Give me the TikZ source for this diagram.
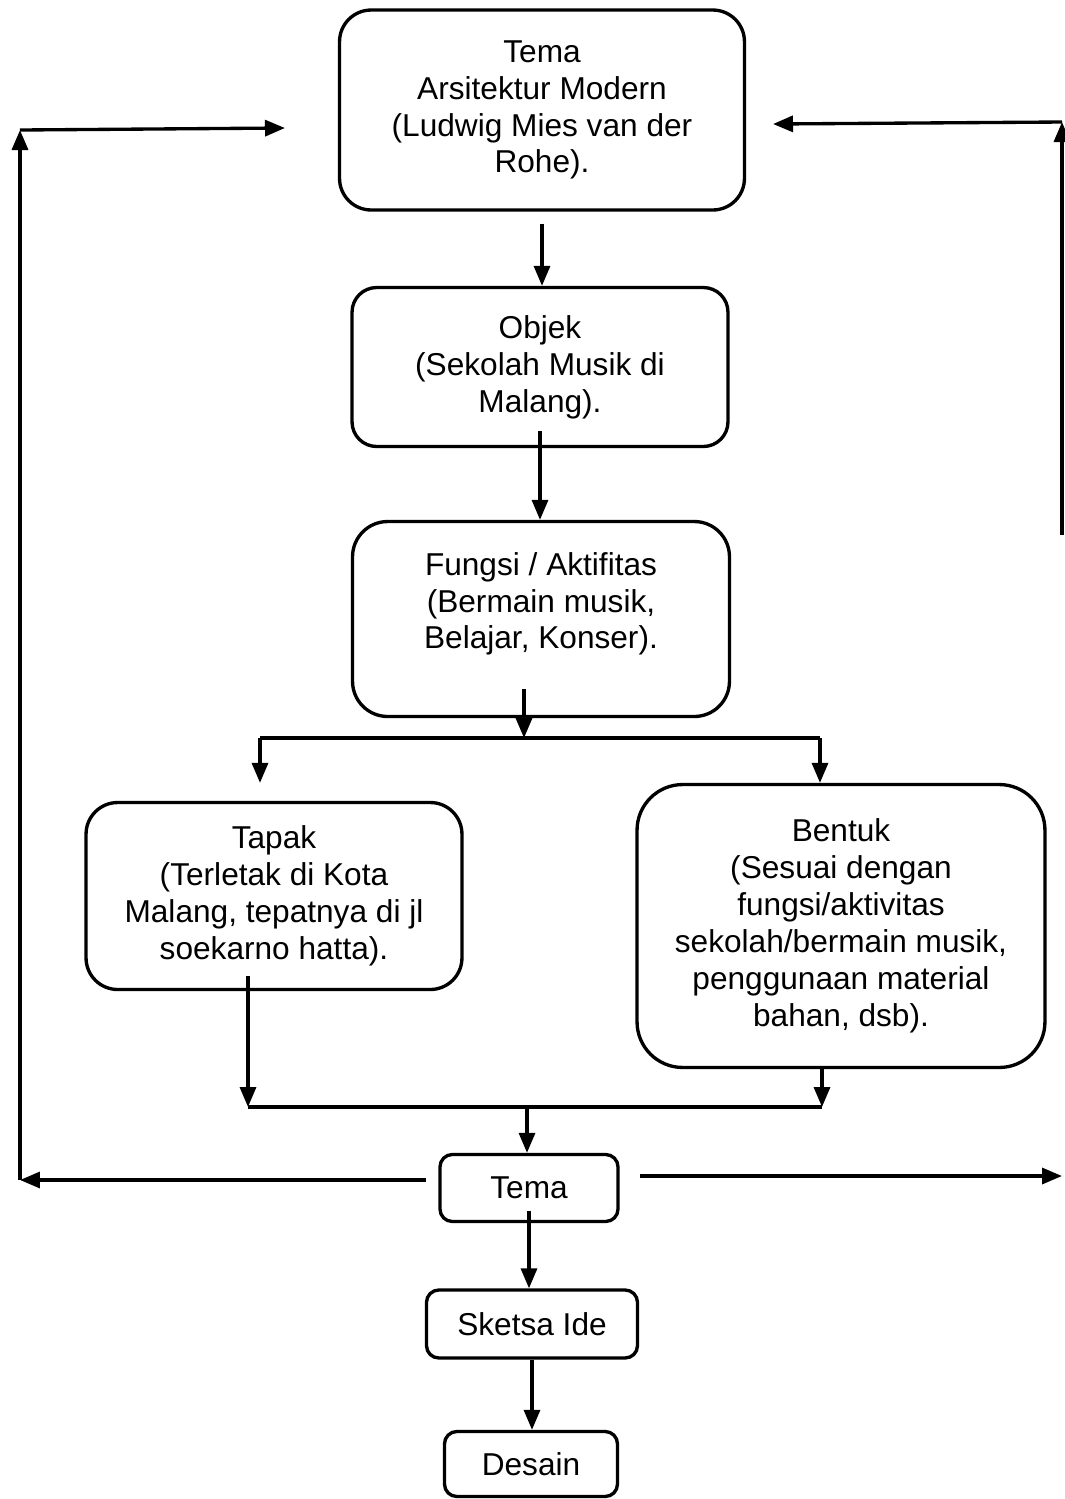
\documentclass[tikz,border=0pt]{standalone}
\usepackage{fontspec}
\setmainfont{Liberation Sans}
\usetikzlibrary{arrows.meta}

\begin{document}
\begin{tikzpicture}[
    x=0.02cm, y=-0.02cm,
    kotak/.style={draw=black, line width=1.9pt, rounded corners=#1,
        align=center, inner sep=0pt,
        font=\fontsize{18}{21}\selectfont},
    kotak/.default=16pt,
    arr/.style={line width=1.9pt, -{Triangle[length=0.4cm, width=0.32cm]}},
    garis/.style={line width=1.9pt},
]

\useasboundingbox (0,0) rectangle (1065,1499);

% === Main column ===
\node[kotak=18pt, minimum width=8.1cm, minimum height=4cm] (tema) at (542,110)
    {Tema\\Arsitektur Modern\\(Ludwig Mies van der\\Rohe).};
\node[kotak=14pt, minimum width=7.52cm, minimum height=3.18cm] (objek) at (540,367)
    {Objek\\(Sekolah Musik di\\Malang).};
\node[kotak=20pt, minimum width=7.54cm, minimum height=3.9cm] (fungsi) at (541,619)
    {Fungsi / Aktifitas\\(Bermain musik,\\Belajar, Konser).\\\mbox{}};

% === Two branches ===
\node[kotak=18pt, minimum width=7.52cm, minimum height=3.74cm] (tapak) at (274,896)
    {Tapak\\(Terletak di Kota\\Malang, tepatnya di jl\\soekarno hatta).};
\node[kotak=26pt, minimum width=8.16cm, minimum height=5.66cm] (bentuk) at (841,926)
    {Bentuk\\(Sesuai dengan\\fungsi/aktivitas\\sekolah/bermain musik,\\penggunaan material\\bahan, dsb).};

% === Lower column ===
\node[kotak=7pt, minimum width=3.56cm, minimum height=1.34cm] (tema2) at (529,1188) {Tema};
\node[kotak=7pt, minimum width=4.22cm, minimum height=1.36cm] (sketsa) at (532,1324) {Sketsa Ide};
\node[kotak=7pt, minimum width=3.46cm, minimum height=1.3cm] (desain) at (531,1464) {Desain};

% Branch and merge points
\coordinate (pisah) at (524,738);
\coordinate (pisahL) at (260,738);
\coordinate (pisahR) at (820,738);
\coordinate (gabung) at (527,1107);
\coordinate (gabungL) at (248,1107);
\coordinate (gabungR) at (822,1107);

% Feedback loop corners
\coordinate (kiriB) at (20,1180);
\coordinate (kiriA) at (20,130);
\coordinate (kiriE) at (285,128);
\coordinate (kananB) at (1062,1176);
\coordinate (kananM) at (1062,535);
\coordinate (kananA) at (1062,122);
\coordinate (kananE) at (773,124);

% === Connectors ===
\draw[arr, shorten <=0.24cm] (tema.south) -- (objek.north -| tema.south);
\draw[arr, shorten <=-0.34cm] (objek.south) -- (fungsi.north -| objek.south);
\draw[arr, shorten <=-0.58cm] (fungsi.south -| pisah) -- (pisah);
\draw[garis] (pisahL) -- (pisahR);
\draw[arr, shorten >=0.36cm] (pisahL) -- (pisahL |- tapak.north);
\draw[arr] (pisahR) -- (pisahR |- bentuk.north);

\draw[arr, shorten <=-0.3cm] (tapak.south -| gabungL) -- (gabungL);
\draw[arr] (bentuk.south -| gabungR) -- (gabungR);
\draw[garis] (gabungL) -- (gabungR);
\draw[arr] (gabung) -- (tema2.north -| gabung);

\draw[arr, shorten <=-0.24cm] (tema2.south) -- (sketsa.north -| tema2.south);
\draw[arr] (sketsa.south) -- (desain.north -| sketsa.south);

% Left loop
\draw[arr, shorten <=0.24cm] (tema2.west |- kiriB) -- (kiriB);
\draw[arr] (kiriB) -- (kiriA);
\draw[arr] (kiriA) -- (kiriE);

% Right loop
\draw[arr, shorten <=0.4cm] (tema2.east |- kananB) -- (kananB);
\draw[arr] (kananM) -- (kananA);
\draw[arr] (kananA) -- (kananE);

\end{tikzpicture}
\end{document}
